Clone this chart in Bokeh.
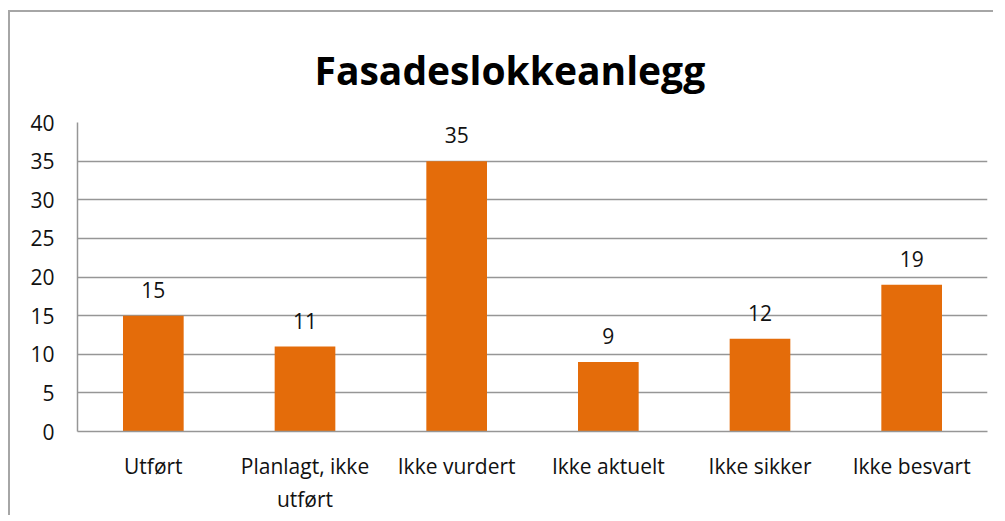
from bokeh.plotting import figure
from bokeh.models import ColumnDataSource, LabelSet, FixedTicker
from bokeh.core.properties import value
from bokeh.embed import file_html
from bokeh.resources import INLINE

categories = ["Utført", "Planlagt, ikke\nutført", "Ikke vurdert", "Ikke aktuelt", "Ikke sikker", "Ikke besvart"]
values = [15, 11, 35, 9, 12, 19]
y_ticks = [0, 5, 10, 15, 20, 25, 30, 35, 40]
title_text = "Fasadeslokkeanlegg"

FONT = "Open Sans"
GRAY = "#969696"
ORANGE = "#e46c0a"

src = ColumnDataSource(dict(cat=categories, val=values, lab=[str(v) for v in values]))

p = figure(x_range=categories, y_range=(0, 40), width=985, height=505,
           output_backend="svg", toolbar_location=None,
           min_border_left=67, min_border_right=8, min_border_top=110, min_border_bottom=86)
p.styles = {"border-left": "2px solid #a6a6a6", "border-top": "2px solid #a6a6a6",
            "margin-top": "10px", "margin-left": "8px"}

p.vbar(x="cat", top="val", width=0.4, source=src, color=ORANGE, line_color=None)

labels = LabelSet(x="cat", y="val", text="lab", source=src, text_align="center",
                  text_baseline="alphabetic", y_offset=18, text_font=value(FONT),
                  text_font_size="21px", text_color="#111111")
p.add_layout(labels)

p.title.text = title_text
p.title.align = "left"
p.title.offset = 237
p.title.text_font = FONT
p.title.text_font_size = "39px"
p.title.text_font_style = "bold"
p.title.text_color = "#000000"
p.title.standoff = 54

p.outline_line_color = None
p.xgrid.grid_line_color = None
p.ygrid.grid_line_color = GRAY
p.ygrid.grid_line_width = 1.5
p.yaxis.ticker = FixedTicker(ticks=y_ticks)

for ax in (p.xaxis[0], p.yaxis[0]):
    ax.axis_line_color = GRAY
    ax.axis_line_width = 1.5
    ax.major_tick_line_color = None
    ax.minor_tick_line_color = None
    ax.major_label_text_font = FONT
    ax.major_label_text_color = "#111111"

p.yaxis.major_label_text_font_size = "21px"
p.xaxis.major_label_text_font_size = "21px"
p.yaxis.major_label_standoff = 17
p.xaxis.major_label_standoff = 14
p.background_fill_color = "white"
p.border_fill_color = "white"

open("out.html", "w").write(file_html(p, INLINE))
